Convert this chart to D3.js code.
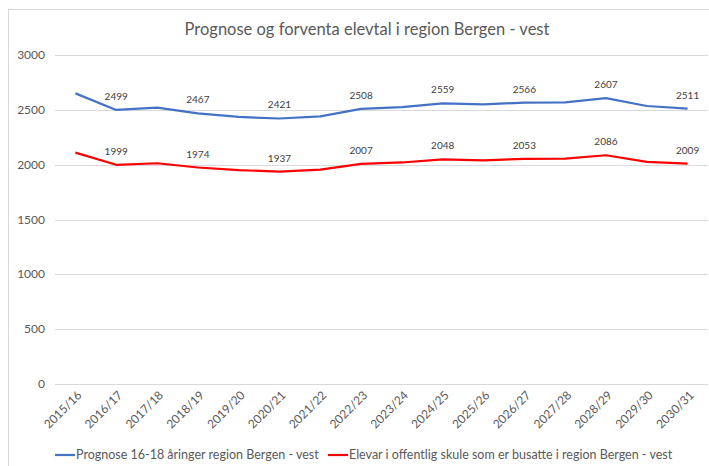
<!DOCTYPE html>
<html>
<head>
<meta charset="utf-8">
<script src="https://cdn.jsdelivr.net/npm/d3@7"></script>
<style>
  body { margin: 0; background: #fff; }
  text { font-family: Lato, "Open Sans", sans-serif; fill: #595959; }
</style>
</head>
<body>
<svg width="709" height="466"></svg>
<script>
var years = ["2015/16","2016/17","2017/18","2018/19","2019/20","2020/21","2021/22","2022/23",
             "2023/24","2024/25","2025/26","2026/27","2027/28","2028/29","2029/30","2030/31"];
var prognose = [2650,2499,2520,2467,2435,2421,2440,2508,2525,2559,2550,2566,2568,2607,2535,2511];
var elevar   = [2110,1999,2013,1974,1950,1937,1955,2007,2020,2048,2040,2053,2055,2086,2025,2009];
var yTicks = [0,500,1000,1500,2000,2500,3000];
var seriesNames = ["Prognose 16-18 åringer region Bergen - vest",
                   "Elevar i offentlig skule som er busatte i region Bergen - vest"];
var colors = ["#4472c4", "#ff0000"];

var svg = d3.select("svg");

// chart border
svg.append("rect")
  .attr("x", 8.5).attr("y", 9.5)
  .attr("width", 720).attr("height", 470)
  .attr("fill", "none").attr("stroke", "#d9d9d9");

svg.append("text")
  .attr("x", 367).attr("y", 35)
  .attr("text-anchor", "middle")
  .style("font-size", "16.5px")
  .text("Prognose og forventa elevtal i region Bergen - vest");

var x = d3.scaleBand().domain(years).range([55, 708]);
var y = d3.scaleLinear().domain([0, 3000]).range([384, 55]);

// gridlines
svg.append("g").selectAll("line")
  .data(yTicks)
  .enter().append("line")
    .attr("x1", 55).attr("x2", 708)
    .attr("y1", function(d) { return Math.round(y(d)) + 0.5; })
    .attr("y2", function(d) { return Math.round(y(d)) + 0.5; })
    .attr("stroke", "#d9d9d9");

svg.append("g").selectAll("text")
  .data(yTicks)
  .enter().append("text")
    .attr("x", 45)
    .attr("y", function(d) { return y(d) + 4; })
    .attr("text-anchor", "end")
    .style("font-size", "12px")
    .text(function(d) { return d; });

// x labels rotated
svg.append("g").selectAll("text")
  .data(years)
  .enter().append("text")
    .attr("transform", function(d) {
      return "translate(" + (x(d) + x.bandwidth() / 2 + 4) + ",393) rotate(-45)";
    })
    .attr("text-anchor", "end")
    .attr("dy", "0.35em")
    .style("font-size", "12px")
    .text(function(d) { return d; });

var line = d3.line()
  .x(function(d, i) { return x(years[i]) + x.bandwidth() / 2; })
  .y(function(d) { return y(d); });

[prognose, elevar].forEach(function(series, k) {
  svg.append("path")
    .datum(series)
    .attr("fill", "none")
    .attr("stroke", colors[k])
    .attr("stroke-width", 2.2)
    .attr("stroke-linejoin", "round")
    .attr("d", line);

  svg.append("g").selectAll("text")
    .data(series)
    .enter().filter(function(d, i) { return i % 2 === 1; })
    .append("text")
      .attr("x", function(d, i) { return x(years[i * 2 + 1]) + x.bandwidth() / 2; })
      .attr("y", function(d) { return y(d) - 10; })
      .attr("text-anchor", "middle")
      .style("font-size", "10px")
      .style("fill", "#404040")
      .text(function(d) { return d; });
});

// legend
var legendX = [55, 328];
seriesNames.forEach(function(name, k) {
  svg.append("line")
    .attr("x1", legendX[k]).attr("x2", legendX[k] + 20)
    .attr("y1", 455).attr("y2", 455)
    .attr("stroke", colors[k]).attr("stroke-width", 2.2);
  svg.append("text")
    .attr("x", legendX[k] + 21).attr("y", 459)
    .style("font-size", "12.5px")
    .text(name);
});
</script>
</body>
</html>
